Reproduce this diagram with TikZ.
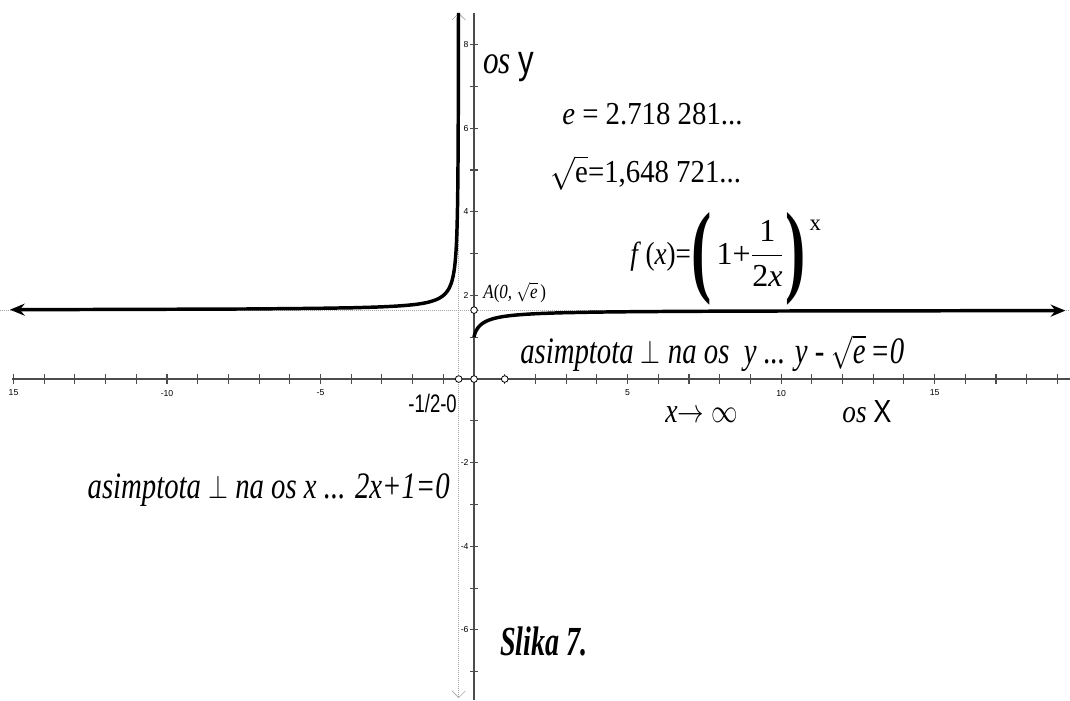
\documentclass[tikz,border=0pt]{standalone}
\usepackage{amsmath}
\usepackage{fontspec}
\setmainfont{Liberation Serif}
\setsansfont{Liberation Sans}
\usetikzlibrary{arrows.meta}

\newcommand{\bigpar}[1]{\raisebox{-0.62em}{\scalebox{1.9}[3.2]{\textbf{#1}}}}

\begin{document}
\begin{tikzpicture}[x=23.025pt, y=31.35pt, >={Stealth[length=11pt, width=9pt]},
  ax/.style={black!70, line width=1.1pt},
  asy/.style={gray!70, densely dotted, line width=0.5pt},
  graf/.style={line width=2.6pt},
  pt/.style={circle, draw, fill=white, inner sep=0pt, minimum size=5pt, line width=0.6pt},
  tk/.style={font=\sffamily\fontsize{6.5}{7}\selectfont, inner sep=1pt},
  txt/.style={inner sep=0pt, anchor=base west}]
\useasboundingbox (-15.44,-7.68) rectangle (19.41,9.067);
\draw[asy, {Straight Barb[length=5pt]}-{Straight Barb[length=5pt]}] (-0.5,8.76) -- (-0.5,-7.63);
\draw[asy] (-15.44,1.6487) -- (19.41,1.6487);
\draw[ax] (-15.05,0) -- (19.41,0);
\draw[ax] (0,8.76) -- (0,-7.68);
\foreach \i in {-15,...,19}
  \draw[ax, line width=0.8pt] (\i,-0.12) -- (\i,0.12);
\foreach \j in {-7,...,8}
  \draw[ax, line width=0.8pt] (-0.12,\j) -- (0.14,\j);
\foreach \i/\s in {-15/15,-10/-10,-5/-5,5/5,10/10,15/15}
  \node[tk] (xl\i) at (\i,-0.335) {\s};
\foreach \j in {-6,-4,-2,2,4,6,8}
  \node[tk, anchor=east] (yl\j) at (-0.13,\j) {\j};
\draw[graf, <-] plot[domain=2.682:-4.96, samples=140, variable=\t]
  ({-0.5-exp(\t)}, {exp(-(0.5+exp(\t))*(0.693147+(\t)-ln(1+2*exp(\t))))});
\draw[graf, ->] (0,1) -- plot[domain=-9:2.96, samples=140, variable=\t]
  ({exp(\t)}, {exp(exp(\t)*(ln(1+2*exp(\t))-0.693147-(\t)))});
\node[pt] (pA) at (0,1.6487) {};
\node[pt] (pH) at (-0.5,0) {};
\node[pt] (pO) at (0,0) {};
\node[pt] (p1) at (1,0) {};
\node[txt, font=\fontsize{30}{30}\selectfont] (osy) at (0.293,7.32)
  {\scalebox{0.78}[1]{\textit{os} \textsf{y}}};
\node[txt, font=\fontsize{24}{24}\selectfont] (eval) at (2.866,6.077)
  {\scalebox{0.9}[1]{\textit{e} = 2.718 281...}};
\node[txt, font=\fontsize{24}{24}\selectfont] (sqe) at (2.476,4.70)
  {\scalebox{0.9}[1]{$\sqrt{\text{e}}$=1,648 721...}};
\node[txt, font=\fontsize{24}{24}\selectfont] (fx) at (5.08,2.75)
  {\scalebox{0.85}[1]{\textit{f}\,(\textit{x})=}\bigpar{(}\hspace{4pt}1+$\dfrac{\text{1}}{\text{2\textit{x}}}$\hspace{1pt}\bigpar{)}\hspace{3pt}\raisebox{1.05em}{\fontsize{17}{17}\selectfont x}};
\node[txt, font=\fontsize{15}{15}\selectfont] (lA) at (0.293,1.938)
  {\scalebox{0.85}[1]{\textit{A}(\textit{0,} $\sqrt{\text{\textit{e}}}$\,)}};
\node[txt, font=\fontsize{28}{28}\selectfont] (asy) at (1.498,0.383)
  {\scalebox{0.77}[1]{\textit{asimptota} $\perp$ \textit{na os \ y ... y -} $\sqrt{\text{\textit{e}}}$\,\textit{=0}}};
\node[txt, anchor=base east, font=\sffamily\fontsize{19}{19}\selectfont] (half) at (-0.554,-0.789)
  {\scalebox{0.73}[1]{-1/2-0}};
\node[txt, font=\fontsize{26}{26}\selectfont] (xinf) at (6.22,-1.029)
  {\scalebox{0.8}[1]{\textit{x}$\rightarrow$ $\infty$}};
\node[txt, font=\fontsize{24}{24}\selectfont] (osx) at (11.99,-1.029)
  {\scalebox{0.85}[1]{\textit{os} \textsf{X}}};
\node[txt, anchor=base east, font=\fontsize{28}{28}\selectfont] (asx) at (-0.782,-2.847)
  {\scalebox{0.77}[1]{\textit{asimptota} $\perp$ \textit{na os x ... 2x+1=0}}};
\node[txt, font=\bfseries\itshape\fontsize{31}{31}\selectfont] (sl) at (0.847,-6.603)
  {\scalebox{0.68}[1]{Slika 7.}};
\end{tikzpicture}
\end{document}
